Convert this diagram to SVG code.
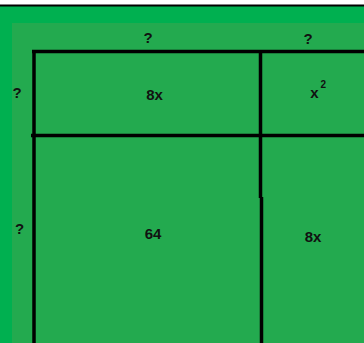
<svg xmlns="http://www.w3.org/2000/svg" width="364" height="343" viewBox="0 0 364 343">
<style>
.t{font-family:"Liberation Sans",Arial,sans-serif;font-weight:bold;font-size:15px;fill:#111;text-anchor:middle}
.s{font-family:"Liberation Sans",Arial,sans-serif;font-weight:bold;font-size:10px;fill:#111}
.ln{stroke:#000;stroke-width:3.5;fill:none}
</style>
<rect x="0" y="0" width="364" height="343" fill="#fff"/>
<rect x="0" y="6" width="364" height="337" fill="#00B050"/>
<rect x="0" y="4.5" width="364" height="2" fill="#000"/>
<rect x="12" y="23" width="352" height="320" fill="#23AA4F"/>
<g id="connectors">
<line class="ln" x1="32" y1="51.5" x2="364" y2="51.5"/>
<line class="ln" x1="31" y1="135.5" x2="364" y2="135.5"/>
<line class="ln" x1="34" y1="50" x2="34" y2="343"/>
<line class="ln" x1="260.5" y1="50" x2="260.5" y2="198"/>
<line class="ln" x1="261.5" y1="197" x2="261.5" y2="343"/>
</g>
<g id="label-top-left"><text class="t" x="148" y="43">?</text></g>
<g id="label-top-right"><text class="t" x="308" y="44">?</text></g>
<g id="label-left-top"><text class="t" x="17" y="98">?</text></g>
<g id="label-left-bottom"><text class="t" x="19.5" y="234">?</text></g>
<g id="cell-8x-top"><text class="t" x="154.5" y="100">8x</text></g>
<g id="cell-x2"><text class="t" x="314.5" y="98">x</text><text class="s" x="320.5" y="88">2</text></g>
<g id="cell-64"><text class="t" x="153" y="239">64</text></g>
<g id="cell-8x-right"><text class="t" x="313" y="242">8x</text></g>
</svg>
